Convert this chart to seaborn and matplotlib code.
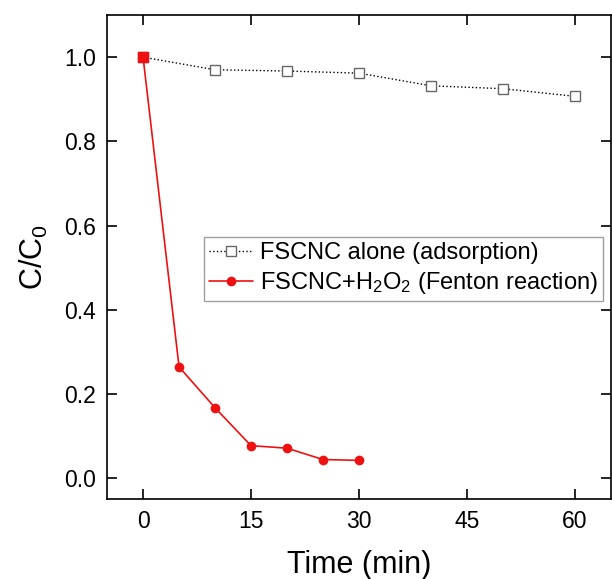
import matplotlib
matplotlib.use("Agg")
import matplotlib.pyplot as plt
import seaborn as sns
import pandas as pd

# Data
time_ads = [0, 10, 20, 30, 40, 50, 60]
ratio_ads = [1.0, 0.970, 0.967, 0.962, 0.932, 0.925, 0.907]
time_fenton = [0, 5, 10, 15, 20, 25, 30]
ratio_fenton = [1.0, 0.264, 0.167, 0.077, 0.071, 0.044, 0.042]

label_ads = "FSCNC alone (adsorption)"
label_fenton = "FSCNC+H$_2$O$_2$ (Fenton reaction)"
x_ticks = [0, 15, 30, 45, 60]
y_ticks = [0.0, 0.2, 0.4, 0.6, 0.8, 1.0]

df_ads = pd.DataFrame({"Time": time_ads, "Ratio": ratio_ads})
df_fen = pd.DataFrame({"Time": time_fenton, "Ratio": ratio_fenton})

sns.set_style("ticks")
plt.rcParams["font.family"] = ["Liberation Sans", "DejaVu Sans"]
plt.rcParams["mathtext.default"] = "regular"
plt.rcParams["text.color"] = "black"
plt.rcParams["axes.labelcolor"] = "black"
plt.rcParams["xtick.color"] = "black"
plt.rcParams["ytick.color"] = "black"
plt.rcParams["axes.edgecolor"] = "black"

fig = plt.figure(figsize=(6.12, 5.79), dpi=100)
ax = fig.add_axes([0.175, 0.138, 0.823, 0.836])

# adsorption series: dotted line, open gray squares
sns.lineplot(data=df_ads, x="Time", y="Ratio", ax=ax, color="black", linestyle=":",
             linewidth=1.0, marker="s", markersize=7, markerfacecolor="white",
             markeredgecolor="#666666", markeredgewidth=1.0, label=label_ads)

# Fenton series: red line with filled circles
sns.lineplot(data=df_fen, x="Time", y="Ratio", ax=ax, color="#ee1111",
             linewidth=1.2, marker="o", markersize=7, markeredgewidth=0,
             label=label_fenton)
# starting point drawn as red square
ax.plot(time_fenton[0], ratio_fenton[0], marker="s", markersize=7.5,
        color="#ee1111", linestyle="none", zorder=5)

ax.set_xlim(-5, 65)
ax.set_ylim(-0.05, 1.1)
ax.set_xticks(x_ticks)
ax.set_yticks(y_ticks)
ax.set_yticklabels([f"{v:.1f}" for v in y_ticks])

ax.tick_params(direction="in", length=7, width=1.2, top=True, right=True,
               labelsize=16.5, pad=8)
for s in ax.spines.values():
    s.set_linewidth(1.2)
    s.set_visible(True)

ax.set_xlabel("Time (min)", fontsize=22, labelpad=12)
ax.set_ylabel("C/C$_0$", fontsize=22, labelpad=10)

leg = ax.legend(loc="upper left", bbox_to_anchor=(0.192, 0.541), borderaxespad=0,
                fontsize=17, frameon=True, fancybox=False, edgecolor="#888888",
                handlelength=1.9, handletextpad=0.3, labelspacing=0.25,
                borderpad=0.2)
leg.get_frame().set_linewidth(1.0)

fig.savefig("out.png", dpi=100)
